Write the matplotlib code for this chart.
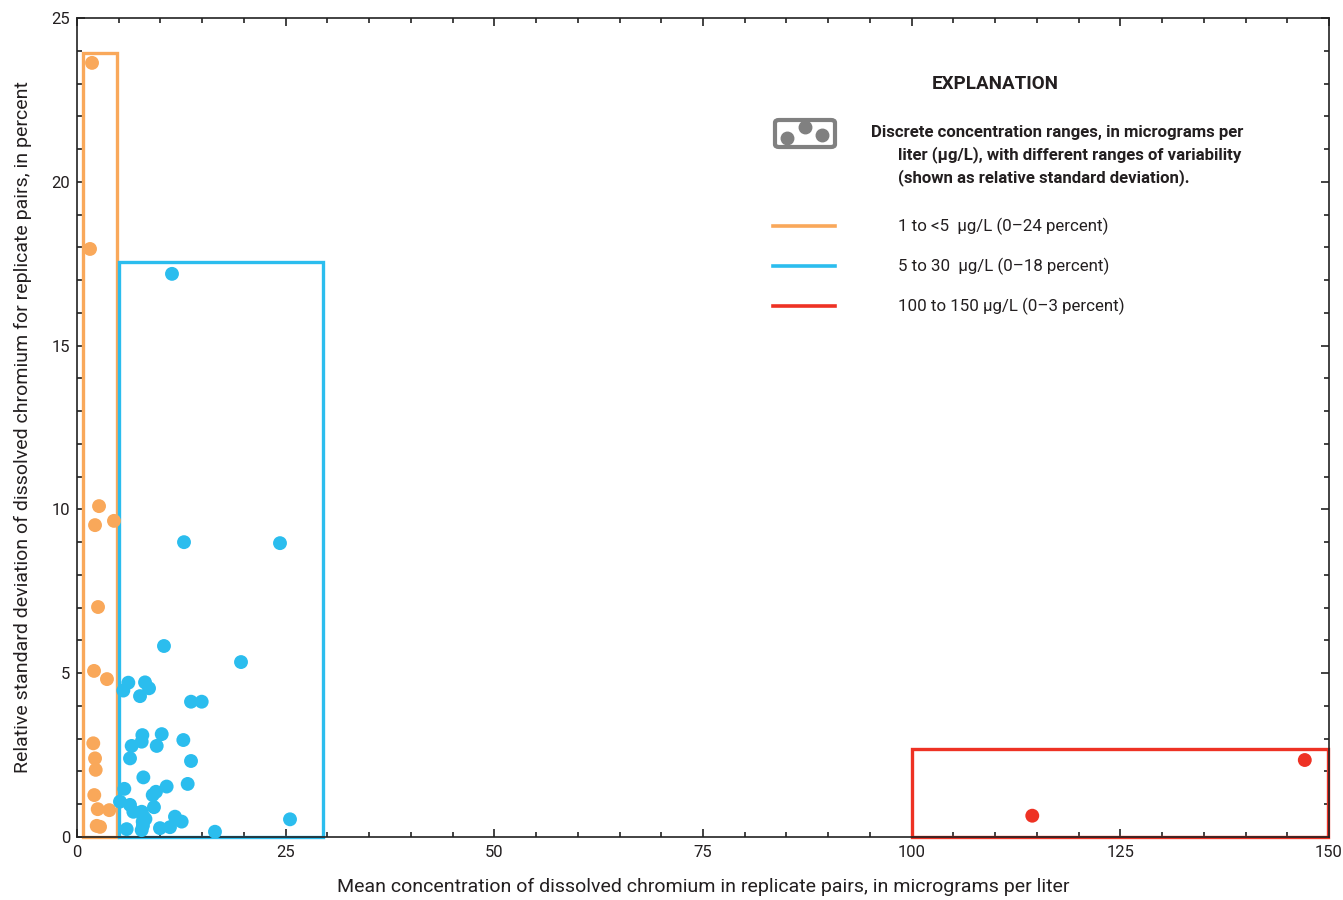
import matplotlib
matplotlib.use("Agg")
import matplotlib.pyplot as plt
from matplotlib.patches import Rectangle, FancyBboxPatch
from matplotlib.ticker import MultipleLocator
from matplotlib.lines import Line2D

plt.rcParams['font.family'] = ['Roboto', 'DejaVu Sans']

# ---- data ----
orange_x = [1.80, 1.56, 2.64, 2.16, 4.43, 2.52, 2.04, 3.59, 1.95, 2.16, 2.24, 2.07, 2.48, 3.87, 2.36, 2.76]
orange_y = [23.63, 17.95, 10.10, 9.52, 9.65, 7.02, 5.07, 4.82, 2.86, 2.40, 2.05, 1.28, 0.85, 0.82, 0.34, 0.31]

blue_x = [11.38, 12.82, 24.32, 10.42, 19.65, 6.15, 5.55, 8.15, 8.63, 7.55, 13.66, 14.94,
          10.15, 7.83, 6.55, 7.75, 9.55, 12.74, 6.35, 13.66, 7.95, 13.26, 5.67, 10.74,
          9.46, 9.07, 5.15, 6.35, 9.22, 6.75, 7.75, 7.95, 7.87, 11.74, 12.54, 11.14,
          9.94, 5.95, 7.75, 16.53, 25.52, 8.20, 7.90]
blue_y = [17.19, 9.00, 8.97, 5.83, 5.34, 4.71, 4.47, 4.72, 4.54, 4.30, 4.13, 4.13,
          3.14, 3.11, 2.78, 2.91, 2.78, 2.96, 2.40, 2.32, 1.82, 1.62, 1.47, 1.54,
          1.38, 1.28, 1.08, 0.98, 0.91, 0.77, 0.77, 0.62, 0.47, 0.62, 0.47, 0.30,
          0.27, 0.24, 0.21, 0.16, 0.54, 0.55, 0.35]

red_x = [114.45, 147.1]
red_y = [0.65, 2.35]

# range boxes: (xmin, xmax, ymax)
orange_box = (0.7, 4.75, 23.92)
blue_box = (5.0, 29.5, 17.55)
red_box = (100.0, 149.9, 2.69)

legend_labels = ["1 to <5  \u00b5g/L (0\u201324 percent)",
                 "5 to 30  \u00b5g/L (0\u201318 percent)",
                 "100 to 150 \u00b5g/L (0\u20133 percent)"]

ORANGE = "#F9A85A"
BLUE = "#2BBDEE"
RED = "#EE3224"
GREY = "#808080"
TXT = "#231f20"

fig = plt.figure(figsize=(13.43, 9.0), dpi=100)
ax = fig.add_axes([77/1343, 63/900, (1329-77)/1343, (837-18)/900])

for (x0, x1, y1), c in [(orange_box, ORANGE), (blue_box, BLUE), (red_box, RED)]:
    ax.add_patch(Rectangle((x0, 0), x1 - x0, y1, fill=False, edgecolor=c, linewidth=2.4,
                           zorder=2, clip_on=False))

ms = 100
ax.scatter(orange_x, orange_y, s=ms, color=ORANGE, edgecolors='none', zorder=3, clip_on=False)
ax.scatter(blue_x, blue_y, s=ms, color=BLUE, edgecolors='none', zorder=3, clip_on=False)
ax.scatter(red_x, red_y, s=ms, color=RED, edgecolors='none', zorder=3, clip_on=False)

ax.set_xlim(0, 150)
ax.set_ylim(0, 25)
ax.xaxis.set_major_locator(MultipleLocator(25))
ax.xaxis.set_minor_locator(MultipleLocator(5))
ax.yaxis.set_major_locator(MultipleLocator(5))
ax.yaxis.set_minor_locator(MultipleLocator(1))
ax.tick_params(which='both', direction='in', top=True, right=True, color='#222222', width=1.2,
               labelcolor=TXT)
ax.tick_params(which='major', length=5.5, labelsize=12, pad=6)
ax.tick_params(which='minor', length=3.5)
ax.tick_params(axis='y', which='major', pad=5)
for s in ax.spines.values():
    s.set_linewidth(1.2)
    s.set_color('#222222')

ax.set_xlabel("Mean concentration of dissolved chromium in replicate pairs, in micrograms per liter",
              fontsize=14, labelpad=13, color=TXT)
ax.set_ylabel("Relative standard deviation of dissolved chromium for replicate pairs, in percent",
              fontsize=14, labelpad=14, color=TXT)

# ---- explanation ----
fig.text(995/1343, 1 - 84/900, "EXPLANATION", fontsize=13.5, fontweight='bold',
         ha='center', va='center', color=TXT)
icon = FancyBboxPatch((775/1343, 1 - 147/900), 60/1343, 27/900,
                      boxstyle="round,pad=0,rounding_size=0.003", transform=fig.transFigure,
                      fill=False, edgecolor=GREY, linewidth=3.0)
fig.patches.append(icon)
fig.add_artist(Line2D([787/1343, 805/1343, 822/1343], [1 - 138/900, 1 - 127/900, 1 - 135/900],
                      transform=fig.transFigure, linestyle='none', marker='o',
                      markersize=9, color=GREY))
fig.text(871/1343, 1 - 133/900, "Discrete concentration ranges, in micrograms per",
         fontsize=12.1, fontweight='bold', ha='left', va='center', color=TXT)
fig.text(898/1343, 1 - 155/900, "liter (\u00b5g/L), with different ranges of variability",
         fontsize=12.1, fontweight='bold', ha='left', va='center', color=TXT)
fig.text(898/1343, 1 - 178/900, "(shown as relative standard deviation).",
         fontsize=12.1, fontweight='bold', ha='left', va='center', color=TXT)

for yy, c, lab in zip([226, 266, 306], [ORANGE, BLUE, RED], legend_labels):
    fig.add_artist(Line2D([773/1343, 835/1343], [1 - yy/900, 1 - yy/900],
                          transform=fig.transFigure, color=c, linewidth=2.6))
    fig.text(898/1343, 1 - yy/900, lab, fontsize=12.2, ha='left', va='center', color=TXT)

fig.savefig("out.png", dpi=100)
